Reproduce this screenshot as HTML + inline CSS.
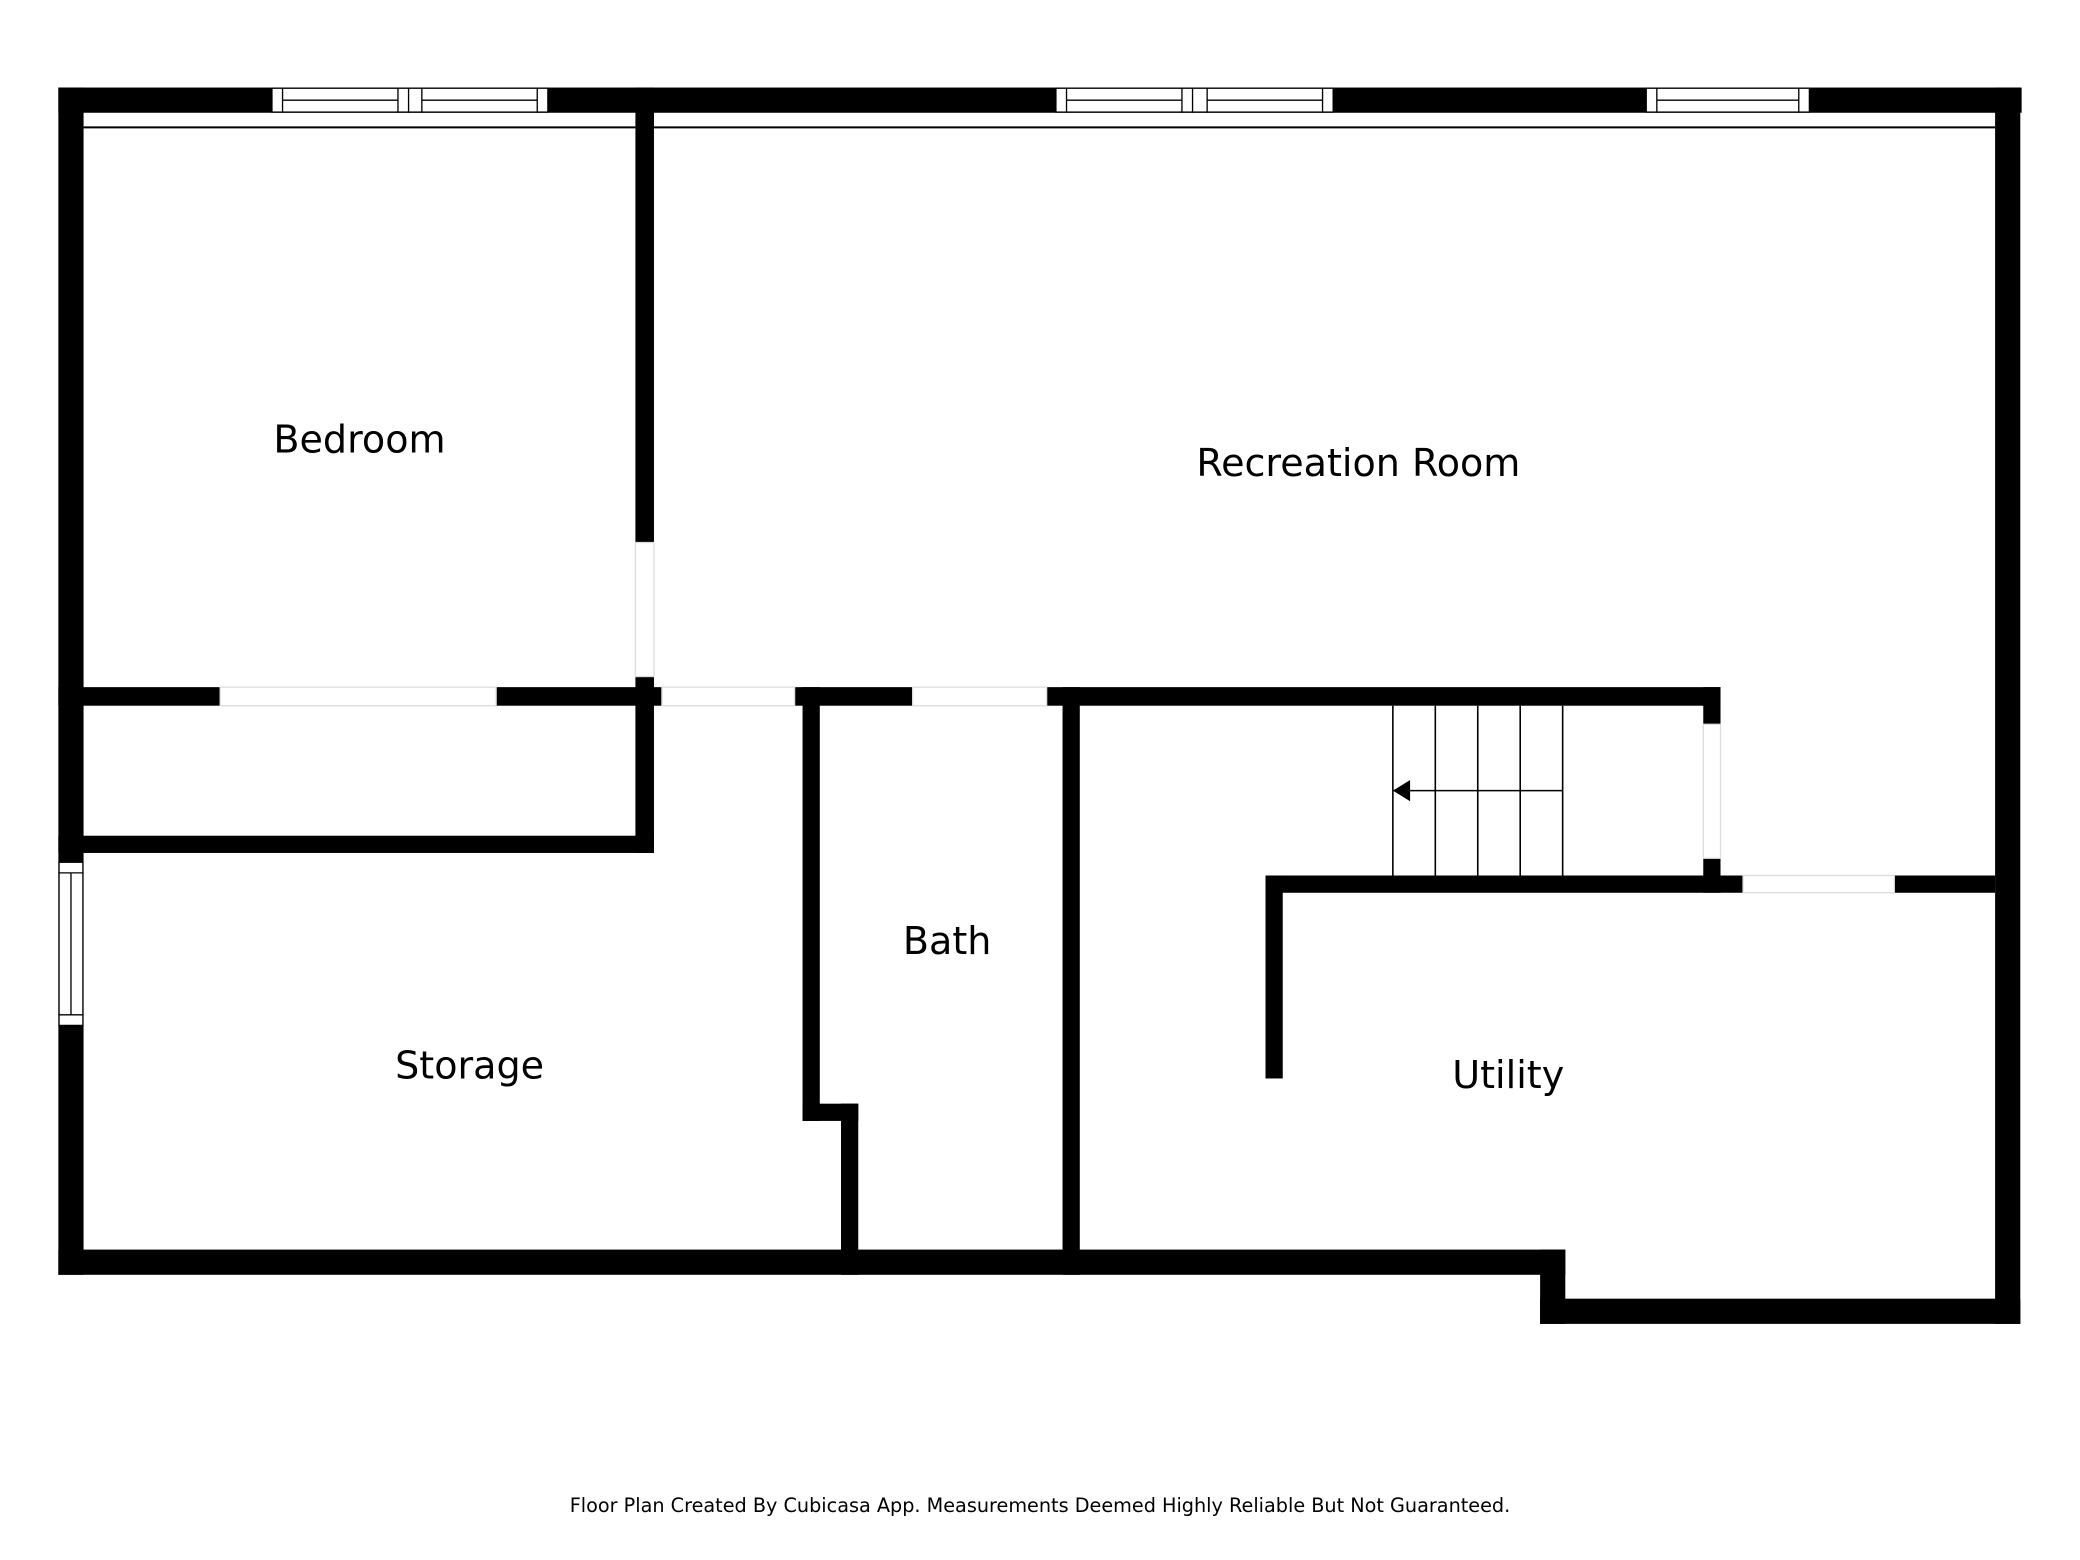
<!DOCTYPE html>
<html><head><meta charset="utf-8"><style>
html,body{margin:0;padding:0;background:#fff;}
svg{display:block;}
text{font-family:"DejaVu Sans","Liberation Sans",sans-serif;fill:#000;}
</style></head><body>
<svg width="2080" height="1560" viewBox="0 0 1568 1176" xmlns="http://www.w3.org/2000/svg">
<rect width="1568" height="1176" fill="#fff"/>
<g fill="#000">
<rect x="44" y="66" width="1480" height="19"/>
<rect x="44" y="66" width="19" height="895"/>
<rect x="1504" y="66" width="19" height="932"/>
<rect x="44" y="942" width="1136" height="19"/>
<rect x="1161" y="942" width="19" height="56"/>
<rect x="1161" y="979" width="362" height="19"/>
<rect x="479" y="66" width="14" height="343"/>
<rect x="479" y="510" width="14" height="22"/>
<rect x="44" y="518" width="122" height="14"/>
<rect x="374" y="518" width="125" height="14"/>
<rect x="599" y="518" width="89" height="14"/>
<rect x="789" y="518" width="508" height="14"/>
<rect x="1284" y="518" width="13" height="28"/>
<rect x="1284" y="647" width="13" height="26"/>
<rect x="954" y="660" width="360" height="13"/>
<rect x="1428" y="660" width="76" height="13"/>
<rect x="954" y="660" width="13" height="153"/>
<rect x="479" y="518" width="14" height="125"/>
<rect x="44" y="630" width="449" height="13"/>
<rect x="605" y="518" width="13" height="327"/>
<rect x="605" y="832" width="42" height="13"/>
<rect x="634" y="832" width="13" height="129"/>
<rect x="801" y="518" width="13" height="443"/>
</g>
<g stroke="#000" stroke-width="1.5">
<line x1="63" y1="96" x2="479" y2="96"/>
<line x1="493" y1="96" x2="1504" y2="96"/>
</g>
<g stroke="#ddd" stroke-width="1" fill="#fff">
<rect x="479" y="409" width="14" height="101"/>
<rect x="166" y="518" width="208" height="14"/>
<rect x="499" y="518" width="100" height="14"/>
<rect x="688" y="518" width="101" height="14"/>
<rect x="1284" y="546" width="13" height="101"/>
<rect x="1314" y="660" width="114" height="13"/>
</g>
<g fill="#fff" stroke="#000" stroke-width="1">
<rect x="205" y="66.5" width="208" height="18"/>
<rect x="796" y="66.5" width="209" height="18"/>
<rect x="1241" y="66.5" width="123" height="18"/>
<rect x="44.5" y="650" width="18" height="123"/>
</g>
<g stroke="#000" stroke-width="1" fill="none">
<line x1="213" y1="66" x2="213" y2="85"/><line x1="300" y1="66" x2="300" y2="85"/>
<line x1="308" y1="66" x2="308" y2="85"/><line x1="318" y1="66" x2="318" y2="85"/>
<line x1="405" y1="66" x2="405" y2="85"/>
<line x1="213" y1="75.5" x2="300" y2="75.5"/><line x1="318" y1="75.5" x2="405" y2="75.5"/>
<line x1="804" y1="66" x2="804" y2="85"/><line x1="891" y1="66" x2="891" y2="85"/>
<line x1="899" y1="66" x2="899" y2="85"/><line x1="910" y1="66" x2="910" y2="85"/>
<line x1="997" y1="66" x2="997" y2="85"/>
<line x1="804" y1="75.5" x2="891" y2="75.5"/><line x1="910" y1="75.5" x2="997" y2="75.5"/>
<line x1="1249" y1="66" x2="1249" y2="85"/><line x1="1356" y1="66" x2="1356" y2="85"/>
<line x1="1249" y1="75.5" x2="1356" y2="75.5"/>
<line x1="44" y1="658" x2="63" y2="658"/><line x1="44" y1="765" x2="63" y2="765"/>
<line x1="53.5" y1="658" x2="53.5" y2="765"/>
</g>
<g stroke="#000" stroke-width="1.2">
<line x1="1050" y1="532" x2="1050" y2="660"/>
<line x1="1082" y1="532" x2="1082" y2="660"/>
<line x1="1114" y1="532" x2="1114" y2="660"/>
<line x1="1146" y1="532" x2="1146" y2="660"/>
<line x1="1178" y1="532" x2="1178" y2="660"/>
<line x1="1060" y1="596" x2="1178" y2="596"/>
</g>
<polygon points="1050,596 1063,588 1063,604" fill="#000"/>
<g font-size="28.7" text-anchor="middle">
<text x="271" y="341">Bedroom</text>
<text x="1024" y="359">Recreation Room</text>
<text x="714" y="719">Bath</text>
<text x="354" y="813">Storage</text>
<text x="1137" y="820">Utility</text>
</g>
<text x="784" y="1140" font-size="14.5" text-anchor="middle">Floor Plan Created By Cubicasa App. Measurements Deemed Highly Reliable But Not Guaranteed.</text>
</svg>
</body></html>
